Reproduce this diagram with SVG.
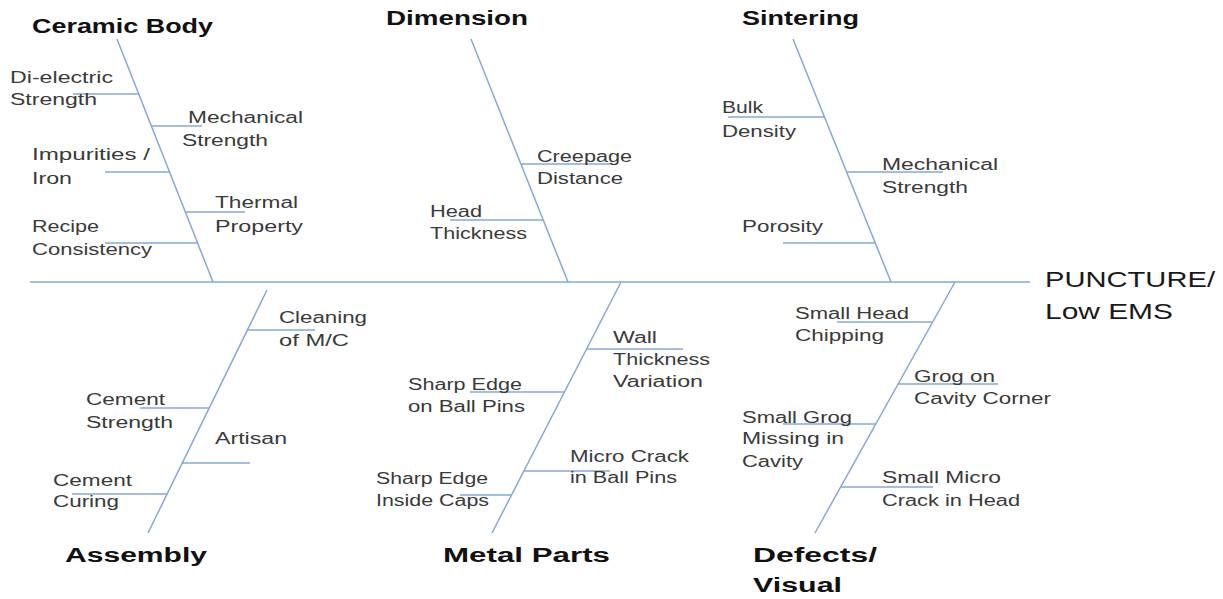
<svg xmlns="http://www.w3.org/2000/svg" width="1223" height="599" viewBox="0 0 1223 599">
<style>
.ln{stroke:#86a8d6;stroke-width:1.5;fill:none}
.t{font-family:"Liberation Sans",Arial,sans-serif;font-size:16px;fill:#3a3a3a}
.h{font-family:"Liberation Sans",Arial,sans-serif;font-size:20px;font-weight:bold;fill:#111}
.e{font-family:"Liberation Sans",Arial,sans-serif;font-size:22px;fill:#1a1a1a}
</style>
<rect width="1223" height="599" fill="#fff"/>
<g id="connectors">
<line class="ln" x1="30" y1="282" x2="1030" y2="282"/>
<line class="ln" x1="117" y1="39" x2="213" y2="282"/>
<line class="ln" x1="73" y1="94" x2="139" y2="94"/>
<line class="ln" x1="151" y1="126" x2="202" y2="126"/>
<line class="ln" x1="105" y1="172" x2="169.5" y2="172"/>
<line class="ln" x1="186" y1="212" x2="245" y2="212"/>
<line class="ln" x1="105" y1="243" x2="198" y2="243"/>
<line class="ln" x1="471" y1="39" x2="568" y2="282"/>
<line class="ln" x1="521" y1="164" x2="610" y2="164"/>
<line class="ln" x1="450" y1="220" x2="543" y2="220"/>
<line class="ln" x1="793" y1="39" x2="891" y2="282"/>
<line class="ln" x1="728" y1="117" x2="824.5" y2="117"/>
<line class="ln" x1="847" y1="172" x2="943" y2="172"/>
<line class="ln" x1="783" y1="243" x2="875.5" y2="243"/>
<line class="ln" x1="267" y1="290" x2="148" y2="533"/>
<line class="ln" x1="247.5" y1="330" x2="315" y2="330"/>
<line class="ln" x1="140" y1="408" x2="209" y2="408"/>
<line class="ln" x1="182.5" y1="463" x2="250" y2="463"/>
<line class="ln" x1="72" y1="494" x2="167" y2="494"/>
<line class="ln" x1="621" y1="282" x2="492" y2="533"/>
<line class="ln" x1="587" y1="349" x2="683" y2="349"/>
<line class="ln" x1="470" y1="392" x2="564.5" y2="392"/>
<line class="ln" x1="524" y1="471" x2="610" y2="471"/>
<line class="ln" x1="460" y1="495" x2="511.5" y2="495"/>
<line class="ln" x1="955" y1="282" x2="815" y2="533"/>
<line class="ln" x1="837" y1="322" x2="932.5" y2="322"/>
<line class="ln" x1="898" y1="384" x2="998" y2="384"/>
<line class="ln" x1="783" y1="424" x2="876" y2="424"/>
<line class="ln" x1="840.5" y1="487" x2="933" y2="487"/>
</g>
<g id="ceramic-body">
<text class="h" x="32" y="33" textLength="181" lengthAdjust="spacingAndGlyphs">Ceramic Body</text>
<text class="t" x="10" y="83" textLength="103" lengthAdjust="spacingAndGlyphs">Di-electric</text>
<text class="t" x="10" y="105" textLength="87" lengthAdjust="spacingAndGlyphs">Strength</text>
<text class="t" x="188" y="123" textLength="115" lengthAdjust="spacingAndGlyphs">Mechanical</text>
<text class="t" x="182" y="146" textLength="86" lengthAdjust="spacingAndGlyphs">Strength</text>
<text class="t" x="32" y="160" textLength="118" lengthAdjust="spacingAndGlyphs">Impurities /</text>
<text class="t" x="32" y="184" textLength="40" lengthAdjust="spacingAndGlyphs">Iron</text>
<text class="t" x="215" y="208" textLength="83" lengthAdjust="spacingAndGlyphs">Thermal</text>
<text class="t" x="215" y="232" textLength="88" lengthAdjust="spacingAndGlyphs">Property</text>
<text class="t" x="32" y="232" textLength="67" lengthAdjust="spacingAndGlyphs">Recipe</text>
<text class="t" x="32" y="255" textLength="120" lengthAdjust="spacingAndGlyphs">Consistency</text>
</g>
<g id="dimension">
<text class="h" x="386" y="25" textLength="142" lengthAdjust="spacingAndGlyphs">Dimension</text>
<text class="t" x="537" y="162" textLength="95" lengthAdjust="spacingAndGlyphs">Creepage</text>
<text class="t" x="537" y="184" textLength="86" lengthAdjust="spacingAndGlyphs">Distance</text>
<text class="t" x="430" y="217" textLength="52" lengthAdjust="spacingAndGlyphs">Head</text>
<text class="t" x="430" y="239" textLength="97" lengthAdjust="spacingAndGlyphs">Thickness</text>
</g>
<g id="sintering">
<text class="h" x="742" y="25" textLength="117" lengthAdjust="spacingAndGlyphs">Sintering</text>
<text class="t" x="722" y="113" textLength="41" lengthAdjust="spacingAndGlyphs">Bulk</text>
<text class="t" x="722" y="137" textLength="74" lengthAdjust="spacingAndGlyphs">Density</text>
<text class="t" x="882" y="170" textLength="116" lengthAdjust="spacingAndGlyphs">Mechanical</text>
<text class="t" x="882" y="193" textLength="86" lengthAdjust="spacingAndGlyphs">Strength</text>
<text class="t" x="742" y="232" textLength="81" lengthAdjust="spacingAndGlyphs">Porosity</text>
</g>
<g id="assembly">
<text class="h" x="65" y="562" textLength="142" lengthAdjust="spacingAndGlyphs">Assembly</text>
<text class="t" x="279" y="323" textLength="88" lengthAdjust="spacingAndGlyphs">Cleaning</text>
<text class="t" x="279" y="346" textLength="70" lengthAdjust="spacingAndGlyphs">of M/C</text>
<text class="t" x="86" y="405" textLength="79" lengthAdjust="spacingAndGlyphs">Cement</text>
<text class="t" x="86" y="428" textLength="87" lengthAdjust="spacingAndGlyphs">Strength</text>
<text class="t" x="215" y="444" textLength="72" lengthAdjust="spacingAndGlyphs">Artisan</text>
<text class="t" x="53" y="486" textLength="79" lengthAdjust="spacingAndGlyphs">Cement</text>
<text class="t" x="53" y="507" textLength="66" lengthAdjust="spacingAndGlyphs">Curing</text>
</g>
<g id="metal-parts">
<text class="h" x="443" y="562" textLength="167" lengthAdjust="spacingAndGlyphs">Metal Parts</text>
<text class="t" x="613" y="343" textLength="44" lengthAdjust="spacingAndGlyphs">Wall</text>
<text class="t" x="613" y="365" textLength="97" lengthAdjust="spacingAndGlyphs">Thickness</text>
<text class="t" x="613" y="387" textLength="90" lengthAdjust="spacingAndGlyphs">Variation</text>
<text class="t" x="408" y="390" textLength="114" lengthAdjust="spacingAndGlyphs">Sharp Edge</text>
<text class="t" x="408" y="412" textLength="117" lengthAdjust="spacingAndGlyphs">on Ball Pins</text>
<text class="t" x="570" y="462" textLength="119" lengthAdjust="spacingAndGlyphs">Micro Crack</text>
<text class="t" x="570" y="483" textLength="107" lengthAdjust="spacingAndGlyphs">in Ball Pins</text>
<text class="t" x="376" y="484" textLength="112" lengthAdjust="spacingAndGlyphs">Sharp Edge</text>
<text class="t" x="376" y="506" textLength="113" lengthAdjust="spacingAndGlyphs">Inside Caps</text>
</g>
<g id="defects-visual">
<text class="h" x="753" y="562" textLength="124" lengthAdjust="spacingAndGlyphs">Defects/</text>
<text class="h" x="753" y="592" textLength="89" lengthAdjust="spacingAndGlyphs">Visual</text>
<text class="t" x="795" y="319" textLength="114" lengthAdjust="spacingAndGlyphs">Small Head</text>
<text class="t" x="795" y="341" textLength="89" lengthAdjust="spacingAndGlyphs">Chipping</text>
<text class="t" x="914" y="382" textLength="81" lengthAdjust="spacingAndGlyphs">Grog on</text>
<text class="t" x="914" y="404" textLength="137" lengthAdjust="spacingAndGlyphs">Cavity Corner</text>
<text class="t" x="742" y="423" textLength="110" lengthAdjust="spacingAndGlyphs">Small Grog</text>
<text class="t" x="742" y="444" textLength="102" lengthAdjust="spacingAndGlyphs">Missing in</text>
<text class="t" x="742" y="467" textLength="61" lengthAdjust="spacingAndGlyphs">Cavity</text>
<text class="t" x="882" y="483" textLength="119" lengthAdjust="spacingAndGlyphs">Small Micro</text>
<text class="t" x="882" y="506" textLength="138" lengthAdjust="spacingAndGlyphs">Crack in Head</text>
</g>
<g id="effect">
<text class="e" x="1045" y="287" textLength="170" lengthAdjust="spacingAndGlyphs">PUNCTURE/</text>
<text class="e" x="1045" y="319" textLength="128" lengthAdjust="spacingAndGlyphs">Low EMS</text>
</g>
</svg>
